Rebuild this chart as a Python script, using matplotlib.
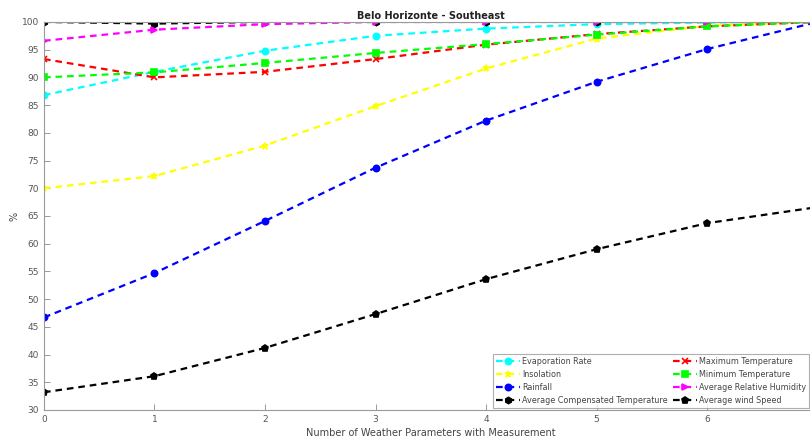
import matplotlib
matplotlib.use("Agg")
import matplotlib.pyplot as plt
import numpy as np

# Number of weather parameters with measurement
n_params = [0, 1, 2, 3, 4, 5, 6, 7]

evaporation_rate = [86.8, 91.0, 94.8, 97.5, 98.8, 99.6, 99.9, 100.0]
insolation = [70.0, 72.2, 77.7, 84.8, 91.6, 97.0, 99.3, 100.0]
rainfall = [46.7, 54.7, 64.1, 73.7, 82.2, 89.2, 95.1, 100.0]
avg_comp_temp = [100.0, 99.7, 100.0, 100.0, 100.0, 100.0, 100.0, 100.0]
max_temp = [93.3, 90.0, 91.0, 93.3, 95.9, 97.8, 99.2, 100.0]
min_temp = [90.0, 90.9, 92.6, 94.4, 96.0, 97.7, 99.2, 100.0]
avg_rel_humidity = [96.6, 98.6, 99.6, 100.0, 100.0, 100.0, 100.0, 100.0]
avg_wind_speed = [33.2, 36.1, 41.2, 47.3, 53.6, 59.0, 63.7, 66.6]

tick_labels = ["0", "1", "2", "3", "4", "5", "6", ""]

series = [
    ("Evaporation Rate", evaporation_rate, "#00ffff", "o"),
    ("Insolation", insolation, "#ffff00", "*"),
    ("Rainfall", rainfall, "#0000ff", "o"),
    ("Average Compensated Temperature", avg_comp_temp, "#000000", "h"),
    ("Maximum Temperature", max_temp, "#ff0000", "x"),
    ("Minimum Temperature", min_temp, "#00ff00", "s"),
    ("Average Relative Humidity", avg_rel_humidity, "#ff00ff", ">"),
    ("Average wind Speed", avg_wind_speed, "#000000", "p"),
]

fig = plt.figure(figsize=(8.1, 4.42), dpi=100)
ax = fig.add_axes([0.0543, 0.0724, 0.955, 0.878])

for label, values, color, marker in series:
    ax.plot(n_params, values, linestyle="--", color=color, marker=marker,
            markersize=4.5, linewidth=1.6, markeredgewidth=1.2,
            dashes=(3.0, 2.2), label=label)

ax.set_xlim(0, 7)
ax.set_ylim(30, 100)
ax.set_xticks(range(0, 8))
ax.set_xticklabels(tick_labels)
ax.set_yticks(range(30, 101, 5))

tick_color = "#555555"
for side in ax.spines.values():
    side.set_color("#9a9a9a")
    side.set_linewidth(0.8)
ax.tick_params(direction="in", length=4, width=0.7, colors="#9a9a9a",
               labelcolor=tick_color, labelsize=6.5)

ax.set_title("Belo Horizonte - Southeast", fontsize=7, fontweight="bold",
             color="#222222", pad=2)
ax.set_xlabel("Number of Weather Parameters with Measurement", fontsize=7,
              color="#444444", labelpad=3)
ax.set_ylabel("%", fontsize=7, color="#444444", labelpad=2)

leg = ax.legend(loc="lower right", ncol=2, fontsize=5.8, frameon=True,
                fancybox=False, edgecolor="#9a9a9a", handlelength=3.0,
                borderaxespad=0.3, labelspacing=0.5, columnspacing=0.6,
                handletextpad=0.3, borderpad=0.35,
                bbox_to_anchor=(0.9925, 0.0))
leg.get_frame().set_linewidth(0.8)
for t in leg.get_texts():
    t.set_color("#444444")

fig.savefig("out.png", dpi=100)
